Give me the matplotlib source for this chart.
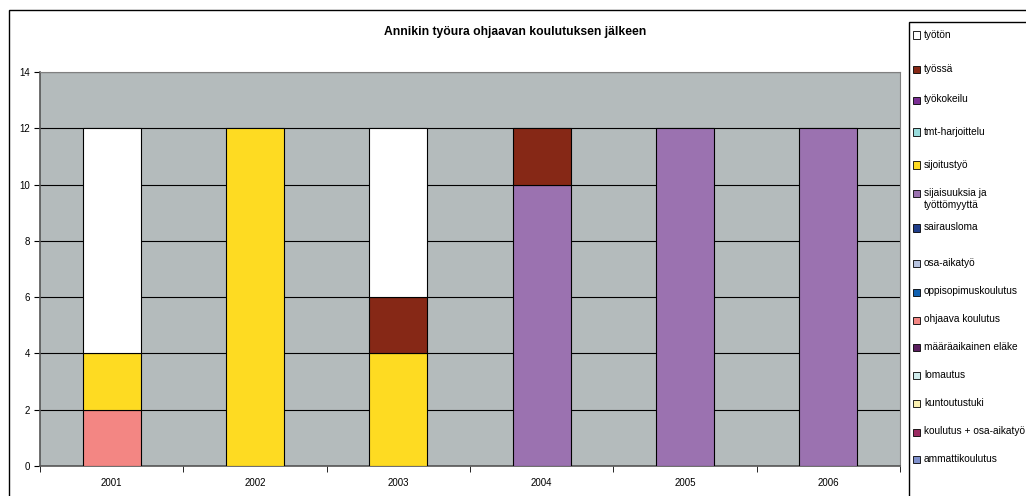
import matplotlib
matplotlib.use('Agg')
import matplotlib.pyplot as plt
from matplotlib.patches import Rectangle
import numpy as np

plt.rcParams['font.family'] = ['Liberation Sans', 'DejaVu Sans']

years = ['2001', '2002', '2003', '2004', '2005', '2006']

# stack order bottom -> top (legend shows it reversed)
series = [
    'ammattikoulutus', 'koulutus + osa-aikatyö', 'kuntoutustuki', 'lomautus',
    'määräaikainen eläke', 'ohjaava koulutus', 'oppisopimuskoulutus',
    'osa-aikatyö', 'sairausloma', 'sijaisuuksia ja\ntyöttömyyttä',
    'sijoitustyö', 'tmt-harjoittelu', 'työkokeilu', 'työssä', 'työtön',
]
colors = [
    '#7f90cc', '#9a2a60', '#fbf0b0', '#d0ecec',
    '#5a1e5e', '#f38683', '#1060b0',
    '#b8c4e0', '#1f3d8a', '#9b72b0',
    '#fedb22', '#99dddd', '#7a2e93', '#862816', '#ffffff',
]
values = {
    'ohjaava koulutus':              [2, 0, 0, 0, 0, 0],
    'sijaisuuksia ja\ntyöttömyyttä': [0, 0, 0, 10, 12, 12],
    'sijoitustyö':                   [2, 12, 4, 0, 0, 0],
    'työssä':                        [0, 0, 2, 2, 0, 0],
    'työtön':                        [8, 0, 6, 0, 0, 0],
}

fig = plt.figure(figsize=(10.26, 4.96), dpi=100)
W, H = 1026, 496

# outer chart border
fig.patches.append(Rectangle((9 / W, -0.1), 1.2, 1 - 10 / H + 0.1, transform=fig.transFigure,
                             fill=False, edgecolor='black', linewidth=1.0))

ax = fig.add_axes([40 / W, 1 - 466 / H, (900 - 40) / W, (466 - 72) / H])
ax.set_facecolor('#b4bbbc')

x = np.arange(len(years))
bottom = np.zeros(len(years))
for name, col in zip(series, colors):
    v = np.array(values.get(name, [0] * len(years)), dtype=float)
    if v.any():
        mask = v > 0
        ax.bar(x[mask], v[mask], 0.405, bottom=bottom[mask], color=col,
               edgecolor='black', linewidth=0.8, zorder=3)
    bottom += v

ax.set_xlim(-0.5, len(years) - 0.5)
ax.set_ylim(0, 14)
ax.set_yticks(range(0, 15, 2))
ax.yaxis.grid(True, color='black', linewidth=0.8, zorder=1)
ax.set_axisbelow(True)
ax.set_xticks(x)
ax.set_xticklabels(years)
ax.set_xticks(np.arange(-0.5, len(years), 1), minor=True)
ax.tick_params(axis='x', which='major', length=0, labelsize=7, pad=9)
ax.tick_params(axis='x', which='minor', length=4, direction='out', color='black')
ax.tick_params(axis='y', length=4, direction='out', labelsize=7, pad=3)
for s in ['top', 'right']:
    ax.spines[s].set_color('#808080')
for s in ['left', 'bottom']:
    ax.spines[s].set_color('#555555')
    ax.spines[s].set_linewidth(1.2)

fig.text(515 / W, 1 - 32 / H, 'Annikin työura ohjaavan koulutuksen jälkeen',
         ha='center', va='center', fontsize=8.7, fontweight='bold')

# legend box (reversed order)
fig.patches.append(Rectangle((909 / W, -0.1), 0.3, 1 - 22 / H + 0.1, transform=fig.transFigure,
                             facecolor='white', edgecolor='black', linewidth=1.0))
ys = [35, 69, 100, 132, 165, 193, 228, 263, 292, 320, 347, 375, 403, 432, 459]
for yy, name, col in zip(ys, series[::-1], colors[::-1]):
    fig.patches.append(Rectangle((913 / W, 1 - (yy + 3.5) / H), 7 / W, 7 / H,
                                 transform=fig.transFigure, facecolor=col,
                                 edgecolor='black', linewidth=0.6))
    fig.text(924 / W, 1 - (yy - 5.5) / H, name, ha='left', va='top',
             fontsize=7.3, linespacing=1.25)

fig.savefig('out.png', dpi=100)
